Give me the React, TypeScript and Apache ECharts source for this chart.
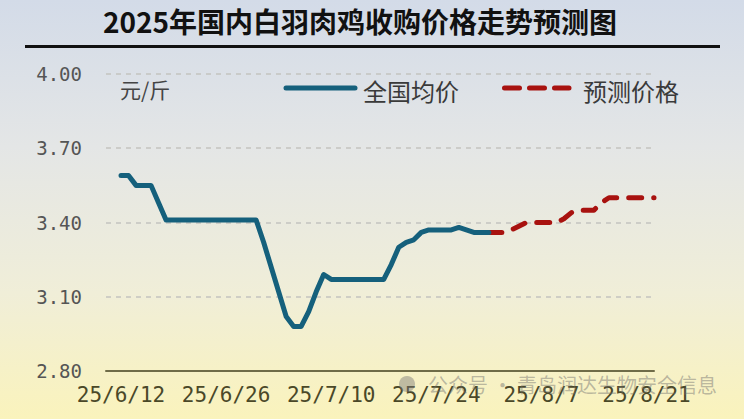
import React, { useEffect, useRef } from "react";
import * as echarts from "echarts";

// ---- data ----
const startDate = { y: 2025, m: 6, d: 10 }; // axis starts 2025-06-10
const dayCount = 74; // through 2025-08-22

const tickLabels = ["25/6/12", "25/6/26", "25/7/10", "25/7/24", "25/8/7", "25/8/21"];
const yTicks = [2.8, 3.1, 3.4, 3.7, 4.0];

// 全国均价 — daily, from 25/6/12
const actualStart = "25/6/12";
const actualValues = [
  3.59, 3.59, 3.55, 3.55, 3.55, 3.48, 3.41, 3.41, 3.41, 3.41,
  3.41, 3.41, 3.41, 3.41, 3.41, 3.41, 3.41, 3.41, 3.41, 3.32,
  3.22, 3.12, 3.02, 2.98, 2.98, 3.04, 3.12, 3.19, 3.17, 3.17,
  3.17, 3.17, 3.17, 3.17, 3.17, 3.17, 3.23, 3.30, 3.32, 3.33,
  3.36, 3.37, 3.37, 3.37, 3.37, 3.38, 3.37, 3.36, 3.36, 3.36,
];

// 预测价格 — daily, from 25/7/31
const forecastStart = "25/7/31";
const forecastValues = [
  3.36, 3.36, 3.36, 3.37, 3.385, 3.40, 3.40, 3.40, 3.40, 3.40,
  3.415, 3.44, 3.45, 3.45, 3.45, 3.48, 3.50, 3.50, 3.50, 3.50,
  3.50, 3.50, 3.50,
];

const seriesNames = ["全国均价", "预测价格"];
const titleText = "2025年国内白羽肉鸡收购价格走势预测图";
const unitText = "元/斤";
const watermarkText = "公众号 · 青岛润达生物安全信息";

function buildCategories(): string[] {
  const out: string[] = [];
  for (let i = 0; i < dayCount; i++) {
    const dt = new Date(startDate.y, startDate.m - 1, startDate.d + i);
    out.push(`${String(dt.getFullYear()).slice(2)}/${dt.getMonth() + 1}/${dt.getDate()}`);
  }
  return out;
}

function placeSeries(cats: string[], start: string, vals: number[]) {
  const arr: (number | null)[] = cats.map(() => null);
  const s = cats.indexOf(start);
  vals.forEach((v, i) => {
    arr[s + i] = v;
  });
  return arr;
}

export default function App() {
  const ref = useRef<HTMLDivElement>(null);

  useEffect(() => {
    if (!ref.current) return;
    const chart = echarts.init(ref.current, undefined, { renderer: "svg" });
    const categories = buildCategories();
    const blue = "#15607c";
    const red = "#a8120f";
    const cjk = '"Noto Sans CJK SC", "Noto Sans", sans-serif';

    chart.setOption({
      animation: false,
      backgroundColor: "transparent",
      grid: { left: 106, right: 90, top: 74, bottom: 48, containLabel: false },
      xAxis: {
        type: "category",
        data: categories,
        boundaryGap: false,
        axisLine: { show: true, lineStyle: { color: "#6f6c48", width: 2 } },
        axisTick: { show: false },
        splitLine: { show: false },
        axisLabel: {
          interval: (idx: number, val: string) => tickLabels.includes(val),
          margin: 13,
          color: "#4a4828",
          fontFamily: '"DejaVu Sans Mono", monospace',
          fontSize: 21,
        },
      },
      yAxis: {
        type: "value",
        min: yTicks[0],
        max: yTicks[yTicks.length - 1],
        interval: 0.3,
        axisLine: { show: false },
        axisTick: { show: false },
        axisLabel: {
          margin: 24,
          color: "#555555",
          fontFamily: '"DejaVu Sans Mono", monospace',
          fontSize: 19,
          formatter: (v: number) => v.toFixed(2),
        },
        splitLine: {
          show: true,
          lineStyle: { color: "#c4c4c0", width: 1.5, type: [5, 5] },
        },
      },
      series: [
        {
          name: seriesNames[0],
          type: "line",
          data: placeSeries(categories, actualStart, actualValues),
          symbol: "none",
          connectNulls: false,
          lineStyle: { color: blue, width: 5, cap: "round", join: "round" },
          z: 3,
        },
        {
          name: seriesNames[1],
          type: "line",
          data: placeSeries(categories, forecastStart, forecastValues),
          symbol: "none",
          connectNulls: false,
          lineStyle: { color: red, width: 5, type: [13, 12], cap: "round", join: "round" },
          z: 2,
        },
      ],
      graphic: [
        {
          type: "text",
          x: 360,
          y: 21,
          style: {
            text: titleText,
            font: `bold 28px ${cjk}`,
            fill: "#111111",
            align: "center",
            verticalAlign: "middle",
          },
        },
        {
          type: "line",
          shape: { x1: 25, y1: 46.5, x2: 720, y2: 46.5 },
          style: { stroke: "#111111", lineWidth: 3 },
        },
        {
          type: "text",
          x: 120,
          y: 89,
          style: {
            text: unitText,
            font: `21px ${cjk}`,
            fill: "#444444",
            verticalAlign: "middle",
          },
        },
        {
          type: "line",
          shape: { x1: 286, y1: 88, x2: 355, y2: 88 },
          style: { stroke: blue, lineWidth: 5, lineCap: "round" },
        },
        {
          type: "text",
          x: 363,
          y: 90,
          style: {
            text: seriesNames[0],
            font: `24px ${cjk}`,
            fill: "#3a3a3a",
            verticalAlign: "middle",
          },
        },
        {
          type: "line",
          shape: { x1: 504.5, y1: 88, x2: 569, y2: 88 },
          style: { stroke: red, lineWidth: 5, lineCap: "round", lineDash: [15, 10] },
        },
        {
          type: "text",
          x: 583,
          y: 90,
          style: {
            text: seriesNames[1],
            font: `24px ${cjk}`,
            fill: "#3a3a3a",
            verticalAlign: "middle",
          },
        },
        {
          type: "circle",
          shape: { cx: 407, cy: 384, r: 8 },
          style: { fill: "rgba(120,120,120,0.45)" },
          z: 10,
        },
        {
          type: "text",
          x: 428,
          y: 384,
          z: 10,
          style: {
            text: watermarkText,
            font: `20px ${cjk}`,
            fill: "rgba(110,110,110,0.45)",
            verticalAlign: "middle",
          },
        },
      ],
    });

    return () => chart.dispose();
  }, []);

  return (
    <div
      style={{
        position: "fixed",
        left: 0,
        top: 0,
        width: 744,
        height: 419,
        background:
          "linear-gradient(to bottom, #d3dbe8 0%, #e4e6e6 35%, #f0eed8 70%, #faf3bc 100%)",
      }}
    >
      <div ref={ref} style={{ width: 744, height: 419 }} />
    </div>
  );
}
